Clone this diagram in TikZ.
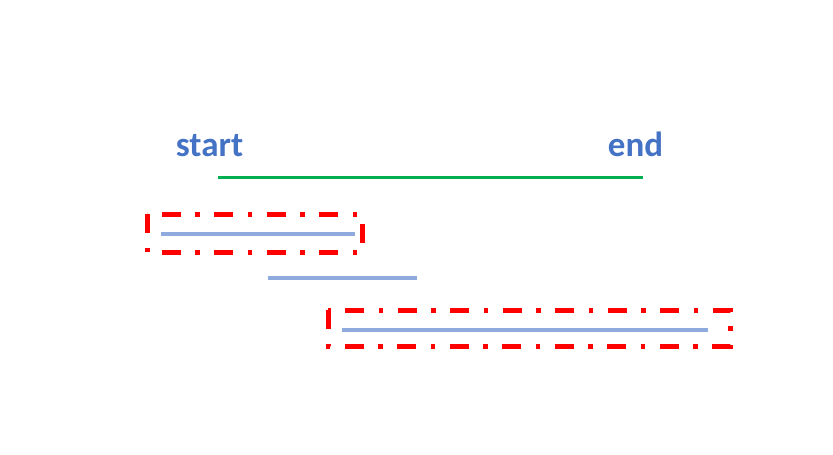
\documentclass[tikz,border=0pt]{standalone}
\usepackage{fontspec}
\setmainfont{Carlito}
\definecolor{txtblue}{HTML}{4472C4}
\definecolor{lgreen}{HTML}{00B050}
\definecolor{lblue}{HTML}{8FAADC}
\definecolor{rred}{HTML}{FF0000}
\begin{document}
\begin{tikzpicture}[x=1pt,y=-1pt,
  lbl/.style={font=\fontsize{35}{40}\selectfont\bfseries, text=txtblue, anchor=base, inner sep=0pt},
  mainline/.style={draw=lgreen, line width=3pt},
  seg/.style={draw=lblue, line width=3.5pt},
  redbox/.style={draw=rred, line width=5pt, dash pattern=on 19pt off 14.5pt on 4.5pt off 14.5pt}]
\useasboundingbox (0,0) rectangle (833,455);
\node[lbl] (start) at (209.5,156) {start};
\node[lbl] (end) at (635.5,156) {end};
\coordinate (g1) at (218,177.5);
\coordinate (g2) at (643,177.5);
\draw[mainline] (g1) -- (g2);
\coordinate (a1) at (161,234);
\coordinate (a2) at (355,234);
\coordinate (b1) at (268,278);
\coordinate (b2) at (417,278);
\coordinate (c1) at (342,330);
\coordinate (c2) at (708,330);
\draw[seg] (a1) -- (a2);
\draw[seg] (b1) -- (b2);
\draw[seg] (c1) -- (c2);
\coordinate (r1a) at (147,214);
\coordinate (r1b) at (362,252);
\coordinate (r2a) at (328,310);
\coordinate (r2b) at (730,346);
\draw[redbox] (r1a) rectangle (r1b);
\draw[redbox] (r2a) rectangle (r2b);
\end{tikzpicture}
\end{document}
